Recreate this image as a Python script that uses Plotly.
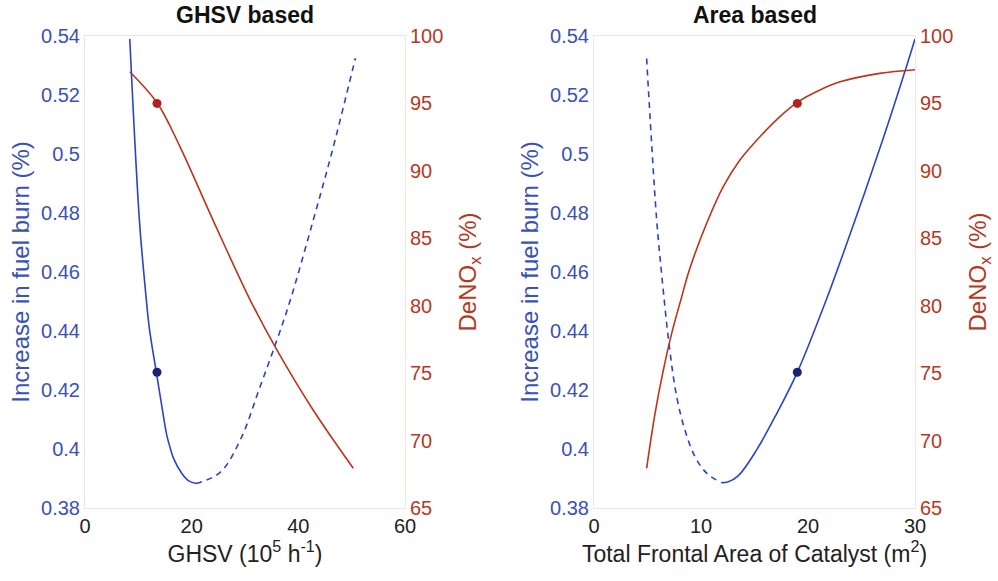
import plotly.graph_objects as go

# ---------------- data ----------------
# GHSV based (left panel)
ghsv_fuel_solid_x = [8.4, 10.2, 11.4, 12.06, 13.44, 14.38, 15.32, 16.0, 16.56, 18.13, 19.37, 20.81]
ghsv_fuel_solid_y = [0.539, 0.4776, 0.4525, 0.441, 0.4253, 0.4148, 0.4048, 0.4002, 0.3970, 0.3918, 0.3893, 0.3883]
ghsv_fuel_dash_x = [20.81, 25.3, 29.1, 32.8, 36.0, 38.5, 42.8, 46.5, 50.7]
ghsv_fuel_dash_y = [0.3883, 0.392, 0.403, 0.421, 0.437, 0.4505, 0.4776, 0.502, 0.5325]
ghsv_denox_x = [8.4, 13.6, 17.8, 24.0, 31.0, 36.0, 42.8, 50.3]
ghsv_denox_y = [97.35, 95.0, 91.8, 86.35, 80.4, 76.7, 72.25, 67.95]
ghsv_point_x = [13.5]
ghsv_point_fuel = [0.426]
ghsv_point_denox = [95.0]

# Area based (right panel)
area_fuel_dash_x = [4.92, 5.07, 5.85, 6.33, 7.04, 7.73, 8.5, 9.44, 10.53, 11.9]
area_fuel_dash_y = [0.5324, 0.5228, 0.478, 0.459, 0.4347, 0.4177, 0.4064, 0.3974, 0.3918, 0.3886]
area_fuel_solid_x = [11.9, 12.5, 13.5, 15.2, 17.1, 19.0, 21.7, 24.4, 27.0, 29.1, 30.0]
area_fuel_solid_y = [0.3886, 0.3888, 0.391, 0.3997, 0.4122, 0.426, 0.4505, 0.4776, 0.505, 0.5285, 0.539]
area_denox_x = [4.92, 5.7, 6.48, 7.26, 8.2, 8.91, 10.53, 12.08, 13.64, 15.51, 17.38, 19.09, 21.12, 23.0, 26.7, 30.0]
area_denox_y = [67.94, 72.0, 75.23, 77.95, 80.67, 82.65, 86.11, 88.83, 90.8, 92.53, 94.02, 95.13, 96.0, 96.6, 97.23, 97.5]
area_point_x = [19.0]
area_point_fuel = [0.426]
area_point_denox = [95.0]

titles = ["GHSV based", "Area based"]
xtitles = ["GHSV (10<sup>5</sup> h<sup>-1</sup>)", "Total Frontal Area of Catalyst (m<sup>2</sup>)"]
fuel_ticks = [0.38, 0.40, 0.42, 0.44, 0.46, 0.48, 0.50, 0.52, 0.54]
fuel_ticktext = ["0.38", "0.4", "0.42", "0.44", "0.46", "0.48", "0.5", "0.52", "0.54"]
denox_ticks = [65, 70, 75, 80, 85, 90, 95, 100]

# ---------------- style ----------------
BLUE = "#2B44C4"
BLUE_TXT = "#3A52B4"
BLUE_DOT = "#1B2472"
RED = "#B9351C"
RED_TXT = "#B5391F"
RED_DOT = "#B3201E"
FONT = "Liberation Sans, Arial, sans-serif"

fig = go.Figure()

def line(x, y, xa, ya, color, dash="solid"):
    fig.add_trace(go.Scatter(x=x, y=y, xaxis=xa, yaxis=ya, mode="lines",
                             line=dict(color=color, width=1.6, dash=dash, shape="spline", smoothing=1.0),
                             showlegend=False, hoverinfo="skip"))

def dot(x, y, xa, ya, color):
    fig.add_trace(go.Scatter(x=x, y=y, xaxis=xa, yaxis=ya, mode="markers",
                             marker=dict(color=color, size=9), showlegend=False))

DASH = "6px,5px"
# left panel
line(ghsv_fuel_solid_x, ghsv_fuel_solid_y, "x", "y", BLUE)
line(ghsv_fuel_dash_x, ghsv_fuel_dash_y, "x", "y", BLUE, DASH)
line(ghsv_denox_x, ghsv_denox_y, "x", "y2", RED)
dot(ghsv_point_x, ghsv_point_fuel, "x", "y", BLUE_DOT)
dot(ghsv_point_x, ghsv_point_denox, "x", "y2", RED_DOT)
# right panel
line(area_fuel_dash_x, area_fuel_dash_y, "x2", "y3", BLUE, DASH)
line(area_fuel_solid_x, area_fuel_solid_y, "x2", "y3", BLUE)
line(area_denox_x, area_denox_y, "x2", "y4", RED)
dot(area_point_x, area_point_fuel, "x2", "y3", BLUE_DOT)
dot(area_point_x, area_point_denox, "x2", "y4", RED_DOT)

W, H = 998, 581
L1, R1 = 85, 405
L2, R2 = 594, 915
TOP, BOT = 36, 508
ydom = [(H - BOT) / H, (H - TOP) / H]

AX_LINE = "#e6e6e6"
def xaxis(dom, rng, dtick, title):
    return dict(domain=dom, range=rng, dtick=dtick, tick0=0, showgrid=False, zeroline=False,
                showline=True, linecolor=AX_LINE, linewidth=1, mirror=True, ticks="",
                tickfont=dict(family=FONT, size=20, color="#222"),
                title=dict(text=title, font=dict(family=FONT, size=23, color="#222"), standoff=3),
                automargin=False)

def yleft(anchor):
    return dict(domain=ydom, range=[0.38, 0.54], tickvals=fuel_ticks, ticktext=fuel_ticktext,
                anchor=anchor, side="left", showgrid=False, zeroline=False,
                showline=True, linecolor="#e4e8f6", linewidth=1, ticks="",
                tickfont=dict(family=FONT, size=20, color=BLUE_TXT),
                title=dict(text="Increase in fuel burn (%)", font=dict(family=FONT, size=24, color=BLUE_TXT), standoff=4),
                automargin=False)

def yright(anchor, over):
    return dict(range=[65, 100], tickvals=denox_ticks, anchor=anchor, overlaying=over, side="right",
                showgrid=False, zeroline=False, showline=True, linecolor="#f6e4e0", linewidth=1, ticks="",
                tickfont=dict(family=FONT, size=20, color=RED_TXT),
                title=dict(text="DeNO<sub>x</sub> (%)", font=dict(family=FONT, size=24, color=RED_TXT), standoff=16),
                automargin=False)

fig.update_layout(
    width=W, height=H,
    margin=dict(l=0, r=0, t=0, b=0),
    paper_bgcolor="white", plot_bgcolor="white",
    xaxis=xaxis([L1 / W, R1 / W], [0, 60], 20, xtitles[0]),
    xaxis2=xaxis([L2 / W, R2 / W], [0, 30], 10, xtitles[1]),
    yaxis=yleft("x"),
    yaxis2=yright("x", "y"),
    yaxis3=yleft("x2"),
    yaxis4=yright("x2", "y3"),
)
fig.layout.xaxis2.anchor = "y3"

for i, (l, r) in enumerate([(L1, R1), (L2, R2)]):
    fig.add_annotation(x=(l + r) / 2 / W, y=1 - 15 / H, xref="paper", yref="paper",
                       xanchor="center", yanchor="middle",
                       text="<b>%s</b>" % titles[i], showarrow=False,
                       font=dict(family=FONT, size=23, color="#111"))

fig.write_html("out.html")
